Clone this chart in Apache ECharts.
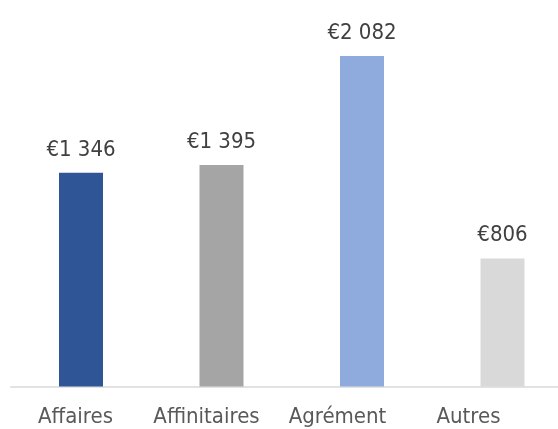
<!DOCTYPE html>
<html>
<head>
<meta charset="utf-8">
<script src="https://cdn.jsdelivr.net/npm/echarts@6/dist/echarts.min.js"></script>
<style>
	html, body { margin: 0; padding: 0; background: #fff; }
	#chart { width: 558px; height: 429px; }
</style>
</head>
<body>
<div id="chart"></div>
<script>
	var categories = ['Affaires', 'Affinitaires', 'Agrément', 'Autres'];
	var values = [1346, 1395, 2082, 806];
	var barColors = ['#2F5597', '#A5A5A5', '#8FAADC', '#D9D9D9'];

	function euro(v) {
		// espace comme séparateur de milliers
		return '€' + String(v).replace(/\B(?=(\d{3})+(?!\d))/g, ' ');
	}

	var chart = echarts.init(document.getElementById('chart'));
	chart.setOption({
		animation: false,
		textStyle: { fontFamily: '"DejaVu Sans Condensed", "DejaVu Sans"' },
		grid: [{
			left: 10.75,
			top: 5.5,
			width: 562,
			bottom: 42.5,
			outerBoundsMode: 'none'
		}, {
			// grille des libellés (espacés un peu plus serrés que les barres)
			left: 10,
			top: 5.5,
			width: 524,
			bottom: 42.5,
			outerBoundsMode: 'none'
		}],
		xAxis: [{
			type: 'category',
			gridIndex: 0,
			data: categories,
			axisTick: { show: false },
			axisLine: { lineStyle: { color: '#D9D9D9', width: 1.5 } },
			axisLabel: { show: false }
		}, {
			type: 'category',
			gridIndex: 1,
			data: categories,
			axisTick: { show: false },
			axisLine: { show: false },
			axisLabel: { color: '#595959', fontSize: 22, margin: 20, interval: 0 }
		}],
		yAxis: [{
			type: 'value',
			gridIndex: 0,
			min: 0,
			max: 2400,
			show: false,
			splitLine: { show: false }
		}, {
			type: 'value',
			gridIndex: 1,
			show: false
		}],
		series: [{
			type: 'bar',
			barWidth: 44,
			data: values.map(function (v, i) {
				return { value: v, itemStyle: { color: barColors[i] } };
			}),
			label: {
				show: true,
				position: 'top',
				distance: 12,
				color: '#404040',
				fontSize: 22,
				formatter: function (p) { return euro(p.value); }
			}
		}]
	});
</script>
</body>
</html>
